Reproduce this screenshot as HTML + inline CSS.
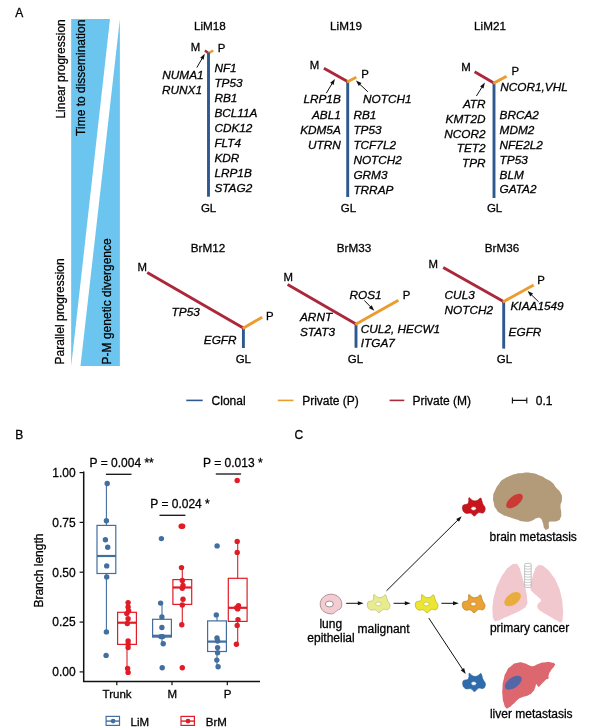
<!DOCTYPE html>
<html><head><meta charset="utf-8"><title>Figure</title>
<style>html,body{margin:0;padding:0;background:#fff}svg{display:block}text{font-family:"Liberation Sans",Arial,Helvetica,sans-serif;fill:#000;stroke:#000;stroke-width:0.28px}</style>
</head><body>
<svg width="612" height="727" viewBox="0 0 612 727">
<rect width="612" height="727" fill="#fff"/>
<text x="15.2" y="16.8" text-anchor="start" font-size="12">A</text>
<polygon points="71.2,19 110,19 71.2,366.1" fill="#6cc5ef"/>
<polygon points="119.9,19 119.9,366.1 80.5,366.1" fill="#6cc5ef"/>
<text transform="translate(64.5,118.6) rotate(-90)" font-size="12">Linear progression</text>
<text transform="translate(85.3,135.9) rotate(-90)" font-size="12">Time to dissemination</text>
<text transform="translate(64.3,364.4) rotate(-90)" font-size="12">Parallel progression</text>
<text transform="translate(110.6,364.4) rotate(-90)" font-size="12">P-M genetic divergence</text>
<text x="209.8" y="30.1" text-anchor="middle" font-size="11.7">LiM18</text>
<line x1="208.9" y1="53.4" x2="204.9" y2="50.6" stroke="#ab283b" stroke-width="2.5" stroke-linecap="butt"/>
<line x1="208.1" y1="53.4" x2="213.3" y2="50.5" stroke="#ec9c2e" stroke-width="2.5" stroke-linecap="butt"/>
<line x1="208.5" y1="52.5" x2="208.5" y2="196.7" stroke="#2e598e" stroke-width="2.9" stroke-linecap="butt"/>
<text x="190.8" y="50.8" text-anchor="start" font-size="11.4">M</text>
<text x="217.8" y="52.0" text-anchor="start" font-size="11.4">P</text>
<line x1="196.8" y1="67.6" x2="202.4" y2="58.0" stroke="#111" stroke-width="1.0"/>
<polygon points="204.8,53.8 203.6,59.8 200.2,57.8" fill="#111"/>
<text x="214.4" y="71.8" text-anchor="start" font-size="11.8" font-style="italic">NF1</text>
<text x="214.4" y="86.8" text-anchor="start" font-size="11.8" font-style="italic">TP53</text>
<text x="214.4" y="101.8" text-anchor="start" font-size="11.8" font-style="italic">RB1</text>
<text x="214.4" y="116.8" text-anchor="start" font-size="11.8" font-style="italic">BCL11A</text>
<text x="214.4" y="131.8" text-anchor="start" font-size="11.8" font-style="italic">CDK12</text>
<text x="214.4" y="146.8" text-anchor="start" font-size="11.8" font-style="italic">FLT4</text>
<text x="214.4" y="161.8" text-anchor="start" font-size="11.8" font-style="italic">KDR</text>
<text x="214.4" y="176.8" text-anchor="start" font-size="11.8" font-style="italic">LRP1B</text>
<text x="214.4" y="191.8" text-anchor="start" font-size="11.8" font-style="italic">STAG2</text>
<text x="203.6" y="79.4" text-anchor="end" font-size="11.8" font-style="italic">NUMA1</text>
<text x="202.0" y="94.3" text-anchor="end" font-size="11.8" font-style="italic">RUNX1</text>
<text x="208.6" y="211.8" text-anchor="middle" font-size="11.5">GL</text>
<text x="346" y="30.1" text-anchor="middle" font-size="11.7">LiM19</text>
<line x1="347.7" y1="80.6" x2="347.7" y2="197" stroke="#2e598e" stroke-width="2.9" stroke-linecap="butt"/>
<line x1="348.4" y1="82.0" x2="323.9" y2="68.3" stroke="#ab283b" stroke-width="2.9" stroke-linecap="butt"/>
<line x1="347.0" y1="82.0" x2="356.3" y2="77.3" stroke="#ec9c2e" stroke-width="2.9" stroke-linecap="butt"/>
<text x="309.8" y="69.0" text-anchor="start" font-size="11.4">M</text>
<text x="361.2" y="78.0" text-anchor="start" font-size="11.4">P</text>
<line x1="326.3" y1="93.2" x2="332.4" y2="83.0" stroke="#111" stroke-width="1.0"/>
<polygon points="334.9,78.9 333.6,84.9 330.2,82.8" fill="#111"/>
<line x1="367.9" y1="91.8" x2="359.4" y2="83.9" stroke="#111" stroke-width="1.0"/>
<polygon points="355.9,80.6 361.5,83.1 358.8,86.0" fill="#111"/>
<text x="340.8" y="103.4" text-anchor="end" font-size="11.8" font-style="italic">LRP1B</text>
<text x="363.0" y="103.4" text-anchor="start" font-size="11.8" font-style="italic">NOTCH1</text>
<text x="340.8" y="118.7" text-anchor="end" font-size="11.8" font-style="italic">ABL1</text>
<text x="340.8" y="133.7" text-anchor="end" font-size="11.8" font-style="italic">KDM5A</text>
<text x="340.8" y="148.7" text-anchor="end" font-size="11.8" font-style="italic">UTRN</text>
<text x="353.4" y="118.7" text-anchor="start" font-size="11.8" font-style="italic">RB1</text>
<text x="353.4" y="133.7" text-anchor="start" font-size="11.8" font-style="italic">TP53</text>
<text x="353.4" y="148.7" text-anchor="start" font-size="11.8" font-style="italic">TCF7L2</text>
<text x="353.4" y="163.7" text-anchor="start" font-size="11.8" font-style="italic">NOTCH2</text>
<text x="353.4" y="178.7" text-anchor="start" font-size="11.8" font-style="italic">GRM3</text>
<text x="353.4" y="193.7" text-anchor="start" font-size="11.8" font-style="italic">TRRAP</text>
<text x="348.4" y="211.8" text-anchor="middle" font-size="11.5">GL</text>
<text x="490" y="30.1" text-anchor="middle" font-size="11.7">LiM21</text>
<line x1="494" y1="82.0" x2="494" y2="198" stroke="#2e598e" stroke-width="2.9" stroke-linecap="butt"/>
<line x1="494.7" y1="83.4" x2="474.6" y2="71.8" stroke="#ab283b" stroke-width="2.9" stroke-linecap="butt"/>
<line x1="493.3" y1="83.4" x2="506.6" y2="76.3" stroke="#ec9c2e" stroke-width="2.9" stroke-linecap="butt"/>
<text x="461.2" y="70.6" text-anchor="start" font-size="11.4">M</text>
<text x="511.6" y="75.3" text-anchor="start" font-size="11.4">P</text>
<line x1="476.4" y1="96.0" x2="482.3" y2="86.7" stroke="#111" stroke-width="1.0"/>
<polygon points="484.9,82.6 483.5,88.6 480.1,86.4" fill="#111"/>
<text x="500.3" y="91.3" text-anchor="start" font-size="11.8" font-style="italic">NCOR1,VHL</text>
<text x="485.6" y="107.7" text-anchor="end" font-size="11.8" font-style="italic">ATR</text>
<text x="485.6" y="122.6" text-anchor="end" font-size="11.8" font-style="italic">KMT2D</text>
<text x="485.6" y="137.5" text-anchor="end" font-size="11.8" font-style="italic">NCOR2</text>
<text x="485.6" y="152.4" text-anchor="end" font-size="11.8" font-style="italic">TET2</text>
<text x="485.6" y="167.3" text-anchor="end" font-size="11.8" font-style="italic">TPR</text>
<text x="499.6" y="118.7" text-anchor="start" font-size="11.8" font-style="italic">BRCA2</text>
<text x="499.6" y="133.65" text-anchor="start" font-size="11.8" font-style="italic">MDM2</text>
<text x="499.6" y="148.6" text-anchor="start" font-size="11.8" font-style="italic">NFE2L2</text>
<text x="499.6" y="163.55" text-anchor="start" font-size="11.8" font-style="italic">TP53</text>
<text x="499.6" y="178.5" text-anchor="start" font-size="11.8" font-style="italic">BLM</text>
<text x="499.6" y="193.45" text-anchor="start" font-size="11.8" font-style="italic">GATA2</text>
<text x="494.6" y="211.8" text-anchor="middle" font-size="11.5">GL</text>
<text x="208" y="252.2" text-anchor="middle" font-size="11.7">BrM12</text>
<line x1="243.4" y1="326.9" x2="243.4" y2="348.0" stroke="#2e598e" stroke-width="2.9" stroke-linecap="butt"/>
<line x1="244.2" y1="328.4" x2="147.2" y2="272.6" stroke="#ab283b" stroke-width="2.9" stroke-linecap="butt"/>
<line x1="242.7" y1="328.4" x2="262.2" y2="317.2" stroke="#ec9c2e" stroke-width="2.9" stroke-linecap="butt"/>
<text x="137.6" y="271.0" text-anchor="start" font-size="11.4">M</text>
<text x="266.0" y="320.2" text-anchor="start" font-size="11.4">P</text>
<text x="171.6" y="316.3" text-anchor="start" font-size="11.8" font-style="italic">TP53</text>
<text x="203.8" y="343.7" text-anchor="start" font-size="11.8" font-style="italic">EGFR</text>
<text x="243.3" y="362.5" text-anchor="middle" font-size="11.5">GL</text>
<text x="354" y="252.2" text-anchor="middle" font-size="11.7">BrM33</text>
<line x1="356.0" y1="323.0" x2="356.0" y2="347.8" stroke="#2e598e" stroke-width="2.9" stroke-linecap="butt"/>
<line x1="356.8" y1="324.5" x2="287.6" y2="284.6" stroke="#ab283b" stroke-width="2.9" stroke-linecap="butt"/>
<line x1="355.3" y1="324.5" x2="398.4" y2="300.3" stroke="#ec9c2e" stroke-width="2.9" stroke-linecap="butt"/>
<text x="283.4" y="280.5" text-anchor="start" font-size="11.4">M</text>
<text x="402.8" y="299.3" text-anchor="start" font-size="11.4">P</text>
<text x="349.5" y="298.5" text-anchor="start" font-size="11.8" font-style="italic">ROS1</text>
<line x1="364.3" y1="300.4" x2="371.0" y2="307.3" stroke="#111" stroke-width="1.0"/>
<polygon points="374.3,310.8 368.8,308.0 371.7,305.2" fill="#111"/>
<text x="300.0" y="320.7" text-anchor="start" font-size="11.8" font-style="italic">ARNT</text>
<text x="300.0" y="336.4" text-anchor="start" font-size="11.8" font-style="italic">STAT3</text>
<text x="360.8" y="332.5" text-anchor="start" font-size="11.8" font-style="italic">CUL2, HECW1</text>
<text x="360.8" y="346.9" text-anchor="start" font-size="11.8" font-style="italic">ITGA7</text>
<text x="355.4" y="362.5" text-anchor="middle" font-size="11.5">GL</text>
<text x="502" y="252.2" text-anchor="middle" font-size="11.7">BrM36</text>
<line x1="503.7" y1="300.8" x2="503.7" y2="348.6" stroke="#2e598e" stroke-width="2.9" stroke-linecap="butt"/>
<line x1="504.4" y1="301.9" x2="443.2" y2="267.4" stroke="#ab283b" stroke-width="2.9" stroke-linecap="butt"/>
<line x1="502.9" y1="301.9" x2="533.7" y2="284.9" stroke="#ec9c2e" stroke-width="2.9" stroke-linecap="butt"/>
<text x="428.6" y="268.4" text-anchor="start" font-size="11.4">M</text>
<text x="537.3" y="283.6" text-anchor="start" font-size="11.4">P</text>
<text x="444.6" y="299.3" text-anchor="start" font-size="11.8" font-style="italic">CUL3</text>
<text x="444.6" y="314.4" text-anchor="start" font-size="11.8" font-style="italic">NOTCH2</text>
<text x="510.5" y="309.6" text-anchor="start" font-size="11.8" font-style="italic">KIAA1549</text>
<line x1="538.6" y1="301.8" x2="531.0" y2="294.4" stroke="#111" stroke-width="1.0"/>
<polygon points="527.6,291.0 533.1,293.6 530.3,296.5" fill="#111"/>
<text x="508.6" y="336.4" text-anchor="start" font-size="11.8" font-style="italic">EGFR</text>
<text x="504.4" y="362.5" text-anchor="middle" font-size="11.5">GL</text>
<line x1="186.3" y1="400.4" x2="202.7" y2="400.4" stroke="#2e598e" stroke-width="1.6" stroke-linecap="butt"/>
<text x="211.6" y="405.0" text-anchor="start" font-size="12">Clonal</text>
<line x1="277.8" y1="400.4" x2="293.5" y2="400.4" stroke="#ec9c2e" stroke-width="1.6" stroke-linecap="butt"/>
<text x="302.2" y="405.0" text-anchor="start" font-size="12">Private (P)</text>
<line x1="389.6" y1="400.4" x2="404.3" y2="400.4" stroke="#ab283b" stroke-width="1.6" stroke-linecap="butt"/>
<text x="412.4" y="405.0" text-anchor="start" font-size="12">Private (M)</text>
<path d="M512.4 400.4H526.8M512.4 397.4V403.4M526.8 397.4V403.4" stroke="#111" stroke-width="1.1" fill="none"/>
<text x="535.8" y="405.0" text-anchor="start" font-size="12">0.1</text>
<text x="15.2" y="438.8" text-anchor="start" font-size="12">B</text>
<path d="M83.7 471.6V681.5H260" stroke="#111" stroke-width="1.5" fill="none"/>
<line x1="79.6" y1="671.9" x2="83.7" y2="671.9" stroke="#111" stroke-width="1.2"/>
<text x="75.7" y="676.2" text-anchor="end" font-size="12">0.00</text>
<line x1="79.6" y1="622.1" x2="83.7" y2="622.1" stroke="#111" stroke-width="1.2"/>
<text x="75.7" y="626.4" text-anchor="end" font-size="12">0.25</text>
<line x1="79.6" y1="572.2" x2="83.7" y2="572.2" stroke="#111" stroke-width="1.2"/>
<text x="75.7" y="576.5" text-anchor="end" font-size="12">0.50</text>
<line x1="79.6" y1="522.4" x2="83.7" y2="522.4" stroke="#111" stroke-width="1.2"/>
<text x="75.7" y="526.7" text-anchor="end" font-size="12">0.75</text>
<line x1="79.6" y1="472.6" x2="83.7" y2="472.6" stroke="#111" stroke-width="1.2"/>
<text x="75.7" y="476.9" text-anchor="end" font-size="12">1.00</text>
<line x1="116.8" y1="681.6" x2="116.8" y2="685.2" stroke="#111" stroke-width="1.2"/>
<text x="117.1" y="697.6" text-anchor="middle" font-size="11.5">Trunk</text>
<line x1="172.0" y1="681.6" x2="172.0" y2="685.2" stroke="#111" stroke-width="1.2"/>
<text x="172.3" y="697.6" text-anchor="middle" font-size="11.5">M</text>
<line x1="227.3" y1="681.6" x2="227.3" y2="685.2" stroke="#111" stroke-width="1.2"/>
<text x="227.60000000000002" y="697.6" text-anchor="middle" font-size="11.5">P</text>
<text transform="translate(42.9,607.6) rotate(-90)" font-size="12">Branch length</text>
<line x1="106.4" y1="483.5" x2="106.4" y2="525.4" stroke="#426f9f" stroke-width="1.1"/>
<line x1="106.4" y1="573.5" x2="106.4" y2="631.9" stroke="#426f9f" stroke-width="1.1"/>
<rect x="97.0" y="525.4" width="18.8" height="48.1" fill="#fff" stroke="#426f9f" stroke-width="1.2"/>
<line x1="97.0" y1="556.0" x2="115.8" y2="556.0" stroke="#426f9f" stroke-width="2.2"/>
<circle cx="107.2" cy="483.5" r="2.7" fill="#426f9f"/>
<circle cx="106.4" cy="520.7" r="2.7" fill="#426f9f"/>
<circle cx="105.4" cy="539.7" r="2.7" fill="#426f9f"/>
<circle cx="107.7" cy="547.3" r="2.7" fill="#426f9f"/>
<circle cx="106.7" cy="565.9" r="2.7" fill="#426f9f"/>
<circle cx="106.7" cy="576.9" r="2.7" fill="#426f9f"/>
<circle cx="106.4" cy="631.9" r="2.7" fill="#426f9f"/>
<circle cx="106.1" cy="655.4" r="2.7" fill="#426f9f"/>
<line x1="127.0" y1="601.8" x2="127.0" y2="612.3" stroke="#e01c26" stroke-width="1.1"/>
<line x1="127.0" y1="644.4" x2="127.0" y2="672.9" stroke="#e01c26" stroke-width="1.1"/>
<rect x="117.6" y="612.3" width="18.8" height="32.1" fill="#fff" stroke="#e01c26" stroke-width="1.2"/>
<line x1="117.6" y1="622.7" x2="136.4" y2="622.7" stroke="#e01c26" stroke-width="2.2"/>
<circle cx="128.1" cy="602.6" r="2.7" fill="#e01c26"/>
<circle cx="128.1" cy="607.0" r="2.7" fill="#e01c26"/>
<circle cx="126.8" cy="613.6" r="2.7" fill="#e01c26"/>
<circle cx="128.6" cy="611.0" r="2.7" fill="#e01c26"/>
<circle cx="128.1" cy="618.8" r="2.7" fill="#e01c26"/>
<circle cx="127.3" cy="623.5" r="2.7" fill="#e01c26"/>
<circle cx="128.1" cy="641.0" r="2.7" fill="#e01c26"/>
<circle cx="128.1" cy="644.2" r="2.7" fill="#e01c26"/>
<circle cx="128.1" cy="647.6" r="2.7" fill="#e01c26"/>
<circle cx="127.6" cy="668.5" r="2.7" fill="#e01c26"/>
<circle cx="128.1" cy="672.4" r="2.7" fill="#e01c26"/>
<line x1="162.0" y1="603.1" x2="162.0" y2="619.3" stroke="#426f9f" stroke-width="1.1"/>
<line x1="162.0" y1="637.1" x2="162.0" y2="643.7" stroke="#426f9f" stroke-width="1.1"/>
<rect x="152.6" y="619.3" width="18.8" height="17.8" fill="#fff" stroke="#426f9f" stroke-width="1.2"/>
<line x1="152.6" y1="635.8" x2="171.4" y2="635.8" stroke="#426f9f" stroke-width="2.2"/>
<circle cx="160.6" cy="603.1" r="2.7" fill="#426f9f"/>
<circle cx="161.9" cy="617.0" r="2.7" fill="#426f9f"/>
<circle cx="161.9" cy="627.5" r="2.7" fill="#426f9f"/>
<circle cx="160.9" cy="636.6" r="2.7" fill="#426f9f"/>
<circle cx="162.7" cy="636.6" r="2.7" fill="#426f9f"/>
<circle cx="163.2" cy="643.7" r="2.7" fill="#426f9f"/>
<circle cx="162.2" cy="667.7" r="2.7" fill="#426f9f"/>
<circle cx="161.4" cy="538.6" r="2.7" fill="#426f9f"/>
<line x1="182.3" y1="567.3" x2="182.3" y2="579.6" stroke="#e01c26" stroke-width="1.1"/>
<line x1="182.3" y1="604.4" x2="182.3" y2="624.8" stroke="#e01c26" stroke-width="1.1"/>
<rect x="172.9" y="579.6" width="18.8" height="24.8" fill="#fff" stroke="#e01c26" stroke-width="1.2"/>
<line x1="172.9" y1="587.5" x2="191.7" y2="587.5" stroke="#e01c26" stroke-width="2.2"/>
<circle cx="181.5" cy="567.6" r="2.7" fill="#e01c26"/>
<circle cx="182.3" cy="580.4" r="2.7" fill="#e01c26"/>
<circle cx="183.0" cy="585.4" r="2.7" fill="#e01c26"/>
<circle cx="182.3" cy="588.2" r="2.7" fill="#e01c26"/>
<circle cx="183.0" cy="599.2" r="2.7" fill="#e01c26"/>
<circle cx="182.3" cy="605.0" r="2.7" fill="#e01c26"/>
<circle cx="181.8" cy="624.8" r="2.7" fill="#e01c26"/>
<circle cx="182.3" cy="667.7" r="2.7" fill="#e01c26"/>
<circle cx="181.2" cy="526.3" r="2.7" fill="#e01c26"/>
<circle cx="182.6" cy="526.3" r="2.7" fill="#e01c26"/>
<line x1="217.0" y1="614.9" x2="217.0" y2="620.9" stroke="#426f9f" stroke-width="1.1"/>
<line x1="217.0" y1="651.5" x2="217.0" y2="666.7" stroke="#426f9f" stroke-width="1.1"/>
<rect x="207.6" y="620.9" width="18.8" height="30.6" fill="#fff" stroke="#426f9f" stroke-width="1.2"/>
<line x1="207.6" y1="641.6" x2="226.4" y2="641.6" stroke="#426f9f" stroke-width="2.2"/>
<circle cx="216.3" cy="614.9" r="2.7" fill="#426f9f"/>
<circle cx="217.0" cy="637.9" r="2.7" fill="#426f9f"/>
<circle cx="217.6" cy="641.0" r="2.7" fill="#426f9f"/>
<circle cx="217.6" cy="647.6" r="2.7" fill="#426f9f"/>
<circle cx="217.6" cy="652.8" r="2.7" fill="#426f9f"/>
<circle cx="216.8" cy="660.1" r="2.7" fill="#426f9f"/>
<circle cx="218.1" cy="666.7" r="2.7" fill="#426f9f"/>
<circle cx="217.1" cy="545.9" r="2.7" fill="#426f9f"/>
<line x1="237.7" y1="541.4" x2="237.7" y2="578.3" stroke="#e01c26" stroke-width="1.1"/>
<line x1="237.7" y1="621.4" x2="237.7" y2="644.2" stroke="#e01c26" stroke-width="1.1"/>
<rect x="228.3" y="578.3" width="18.8" height="43.1" fill="#fff" stroke="#e01c26" stroke-width="1.2"/>
<line x1="228.3" y1="607.8" x2="247.1" y2="607.8" stroke="#e01c26" stroke-width="2.2"/>
<circle cx="236.7" cy="607.8" r="2.7" fill="#e01c26"/>
<circle cx="238.5" cy="605.8" r="2.7" fill="#e01c26"/>
<circle cx="237.7" cy="608.9" r="2.7" fill="#e01c26"/>
<circle cx="238.0" cy="619.6" r="2.7" fill="#e01c26"/>
<circle cx="237.2" cy="625.4" r="2.7" fill="#e01c26"/>
<circle cx="236.4" cy="644.2" r="2.7" fill="#e01c26"/>
<circle cx="237.2" cy="541.4" r="2.7" fill="#e01c26"/>
<circle cx="237.2" cy="552.4" r="2.7" fill="#e01c26"/>
<circle cx="237.2" cy="480.5" r="2.7" fill="#e01c26"/>
<text x="89.6" y="466.6" text-anchor="start" font-size="12">P = 0.004 **</text>
<line x1="105.9" y1="474.3" x2="131.5" y2="474.3" stroke="#111" stroke-width="1.3"/>
<text x="150.3" y="507.5" text-anchor="start" font-size="12">P = 0.024 *</text>
<line x1="159.5" y1="515.3" x2="185.4" y2="515.3" stroke="#111" stroke-width="1.3"/>
<text x="203.1" y="466.6" text-anchor="start" font-size="12">P = 0.013 *</text>
<line x1="215.8" y1="474.0" x2="241.1" y2="474.0" stroke="#111" stroke-width="1.3"/>
<rect x="106.1" y="716.4" width="13.4" height="9" fill="#fff" stroke="#426f9f" stroke-width="1.2"/>
<line x1="106.1" y1="721.1" x2="119.5" y2="721.1" stroke="#426f9f" stroke-width="1.4"/>
<circle cx="113.1" cy="721.1" r="2.4" fill="#426f9f"/>
<text x="130.6" y="725.6" text-anchor="start" font-size="11.5">LiM</text>
<rect x="181.0" y="716.4" width="13.4" height="9" fill="#fff" stroke="#e01c26" stroke-width="1.2"/>
<line x1="181.0" y1="721.1" x2="194.4" y2="721.1" stroke="#e01c26" stroke-width="1.4"/>
<circle cx="188.0" cy="721.1" r="2.4" fill="#e01c26"/>
<text x="205.8" y="725.6" text-anchor="start" font-size="11.5">BrM</text>
<text x="294.6" y="438.8" text-anchor="start" font-size="12">C</text>
<path d="M331.2 594.2c6 0 10.6 4.6 10.6 10 0 3.4-1.4 5.2-3.4 5.6-1.6 0.4-2.4 1.6-3.6 2.8-1.4 1.2-3.2 1.4-5 1.2-5.6-0.6-9.6-4.4-9.6-9.6 0-5.6 4.8-10 11-10z" fill="#f3ccd2" stroke="#9f7d85" stroke-width="0.8"/>
<ellipse cx="329.4" cy="604.0" rx="4.0" ry="2.9" fill="#fff" stroke="#8c7278" stroke-width="0.8"/>
<path d="M373.8 594.4C374.3 594.3 376.1 596.4 377.0 596.9C377.9 597.4 378.9 597.7 379.7 597.7C380.5 597.7 381.6 597.3 382.5 596.9C383.4 596.5 384.9 594.3 385.6 594.8C386.3 595.3 386.7 598.5 387.3 600.0C387.9 601.5 389.6 603.4 389.9 604.6C390.2 605.8 389.7 607.5 389.3 608.3C388.9 609.1 388.2 609.6 387.3 609.8C386.4 609.9 384.4 608.9 383.2 609.3C382.0 609.7 380.3 612.6 379.1 612.7C377.9 612.8 376.6 610.2 375.4 609.8C374.2 609.4 372.3 610.3 371.2 610.1C370.1 609.9 368.9 609.1 368.3 608.3C367.7 607.5 367.3 605.6 367.3 604.6C367.3 603.6 367.5 602.3 368.3 601.7C369.1 601.1 371.7 601.3 372.5 600.7C373.3 600.1 373.4 598.7 373.6 597.8C373.8 596.9 373.3 594.5 373.8 594.4Z" fill="#e9ec8e" stroke="#b9bc62" stroke-width="0.7" stroke-linejoin="round"/>
<ellipse cx="378.4" cy="603.9" rx="2.7" ry="1.9" fill="#fff" stroke="#b9bc62" stroke-width="0.6"/>
<path d="M421.8 594.5C422.3 594.4 424.1 596.5 425.0 597.0C425.9 597.5 426.9 597.8 427.7 597.8C428.5 597.8 429.6 597.4 430.5 597.0C431.4 596.6 432.9 594.4 433.6 594.9C434.3 595.4 434.7 598.6 435.3 600.1C435.9 601.6 437.6 603.5 437.9 604.7C438.2 605.9 437.7 607.6 437.3 608.4C436.9 609.2 436.2 609.8 435.3 609.9C434.4 610.0 432.4 609.0 431.2 609.4C430.0 609.8 428.3 612.7 427.1 612.8C425.9 612.9 424.6 610.3 423.4 609.9C422.2 609.5 420.3 610.4 419.2 610.2C418.1 610.0 416.9 609.2 416.3 608.4C415.7 607.6 415.3 605.7 415.3 604.7C415.3 603.7 415.5 602.4 416.3 601.8C417.1 601.2 419.7 601.4 420.5 600.8C421.3 600.2 421.4 598.8 421.6 597.9C421.8 597.0 421.3 594.6 421.8 594.5Z" fill="#ece632" stroke="#b5ae1e" stroke-width="0.7" stroke-linejoin="round"/>
<ellipse cx="426.4" cy="604.0" rx="2.7" ry="1.9" fill="#fff" stroke="#b5ae1e" stroke-width="0.6"/>
<path d="M468.8 594.5C469.3 594.4 471.1 596.5 472.0 597.0C472.9 597.5 473.9 597.8 474.7 597.8C475.5 597.8 476.6 597.4 477.5 597.0C478.4 596.6 479.9 594.4 480.6 594.9C481.3 595.4 481.7 598.6 482.3 600.1C482.9 601.6 484.6 603.5 484.9 604.7C485.2 605.9 484.7 607.6 484.3 608.4C483.9 609.2 483.2 609.8 482.3 609.9C481.4 610.0 479.4 609.0 478.2 609.4C477.0 609.8 475.3 612.7 474.1 612.8C472.9 612.9 471.6 610.3 470.4 609.9C469.2 609.5 467.3 610.4 466.2 610.2C465.1 610.0 463.9 609.2 463.3 608.4C462.7 607.6 462.3 605.7 462.3 604.7C462.3 603.7 462.5 602.4 463.3 601.8C464.1 601.2 466.7 601.4 467.5 600.8C468.3 600.2 468.4 598.8 468.6 597.9C468.8 597.0 468.3 594.6 468.8 594.5Z" fill="#e9a233" stroke="#b87a1e" stroke-width="0.7" stroke-linejoin="round"/>
<ellipse cx="473.4" cy="604.0" rx="2.7" ry="1.9" fill="#fff" stroke="#b87a1e" stroke-width="0.6"/>
<path d="M469.0 497.7C469.5 497.6 471.3 499.7 472.2 500.2C473.1 500.7 474.1 501.0 474.9 501.0C475.7 501.0 476.8 500.6 477.7 500.2C478.6 499.8 480.1 497.6 480.8 498.1C481.5 498.6 481.9 501.8 482.5 503.3C483.1 504.8 484.8 506.7 485.1 507.9C485.4 509.1 484.9 510.8 484.5 511.6C484.1 512.4 483.4 513.0 482.5 513.1C481.6 513.2 479.6 512.2 478.4 512.6C477.2 513.0 475.5 515.9 474.3 516.0C473.1 516.1 471.8 513.5 470.6 513.1C469.4 512.7 467.5 513.6 466.4 513.4C465.3 513.2 464.1 512.4 463.5 511.6C462.9 510.8 462.5 508.9 462.5 507.9C462.5 506.9 462.7 505.6 463.5 505.0C464.3 504.4 466.9 504.6 467.7 504.0C468.5 503.4 468.6 502.0 468.8 501.1C469.0 500.2 468.5 497.8 469.0 497.7Z" fill="#c8141c" stroke="#b01018" stroke-width="0.7" stroke-linejoin="round"/>
<ellipse cx="473.6" cy="508.5" rx="2.7" ry="1.9" fill="#fff" stroke="#b01018" stroke-width="0.6"/>
<path d="M469.2 673.2C469.7 673.1 471.5 675.2 472.4 675.7C473.3 676.2 474.3 676.5 475.1 676.5C475.9 676.5 477.0 676.1 477.9 675.7C478.8 675.3 480.3 673.1 481.0 673.6C481.7 674.1 482.1 677.3 482.7 678.8C483.3 680.3 485.0 682.2 485.3 683.4C485.6 684.6 485.1 686.3 484.7 687.1C484.3 687.9 483.6 688.4 482.7 688.6C481.8 688.7 479.8 687.7 478.6 688.1C477.4 688.5 475.7 691.4 474.5 691.5C473.3 691.6 472.0 689.0 470.8 688.6C469.6 688.2 467.7 689.1 466.6 688.9C465.5 688.7 464.3 687.9 463.7 687.1C463.1 686.3 462.7 684.4 462.7 683.4C462.7 682.4 462.9 681.1 463.7 680.5C464.5 679.9 467.1 680.1 467.9 679.5C468.7 678.9 468.8 677.5 469.0 676.6C469.2 675.7 468.7 673.3 469.2 673.2Z" fill="#2f6cad" stroke="#2a5f9a" stroke-width="0.7" stroke-linejoin="round"/>
<ellipse cx="473.8" cy="683.5" rx="2.7" ry="1.9" fill="#fff" stroke="#2a5f9a" stroke-width="0.6"/>
<line x1="346.2" y1="603.3" x2="358.8" y2="603.3" stroke="#111" stroke-width="1.0"/>
<polygon points="363.6,603.3 357.8,605.3 357.8,601.3" fill="#111"/>
<line x1="393.6" y1="603.3" x2="405.8" y2="603.3" stroke="#111" stroke-width="1.0"/>
<polygon points="410.6,603.3 404.8,605.3 404.8,601.3" fill="#111"/>
<line x1="441.4" y1="603.3" x2="454.0" y2="603.3" stroke="#111" stroke-width="1.0"/>
<polygon points="458.8,603.3 453.0,605.3 453.0,601.3" fill="#111"/>
<line x1="386.5" y1="590.8" x2="458.3" y2="519.6" stroke="#111" stroke-width="1.0"/>
<polygon points="461.7,516.2 459.0,521.7 456.2,518.9" fill="#111"/>
<line x1="428.8" y1="618.1" x2="463.0" y2="670.0" stroke="#111" stroke-width="1.0"/>
<polygon points="465.6,674.0 460.7,670.3 464.1,668.1" fill="#111"/>
<text x="330.8" y="627.5" text-anchor="middle" font-size="12">lung</text>
<text x="331.0" y="641.9" text-anchor="middle" font-size="12">epithelial</text>
<text x="383.6" y="632.7" text-anchor="middle" font-size="12">malignant</text>
<path d="M520.7 473.2C525.9 472.9 524.6 472.1 531.1 473.0C537.6 473.9 535.5 474.0 540.3 475.8C545.1 477.6 541.6 476.3 545.5 478.5C549.4 480.7 548.6 479.4 552.1 482.4C555.6 485.4 553.2 484.1 556.0 487.6C558.8 491.1 558.5 488.9 560.5 492.8C562.5 496.7 561.9 495.0 561.9 499.4C561.9 503.8 560.7 501.6 560.5 505.9C560.3 510.2 561.2 508.5 561.2 512.4C561.2 516.3 561.8 514.9 560.5 517.7C559.2 520.5 560.6 519.6 557.3 520.9C554.0 522.2 553.5 520.9 550.7 521.6C547.9 522.3 549.4 520.9 548.8 522.9C548.2 524.9 549.5 525.3 548.8 527.5C548.1 529.7 548.3 529.2 546.8 529.4C545.3 529.6 545.5 530.3 544.2 528.1C542.9 525.9 544.2 526.2 542.9 522.9C541.6 519.6 542.5 519.8 540.3 518.3C538.1 516.8 539.5 517.4 536.4 518.3C533.3 519.2 535.5 519.8 531.1 520.9C526.7 522.0 528.1 522.0 523.3 521.6C518.5 521.2 521.6 521.1 516.8 519.6C512.0 518.1 514.1 518.9 508.9 517.0C503.7 515.1 505.5 516.6 501.1 513.8C496.7 511.0 498.2 512.0 495.8 508.5C493.4 505.0 494.8 507.2 493.9 503.3C493.0 499.4 492.8 501.2 493.2 496.8C493.6 492.4 493.2 494.6 495.2 490.2C497.2 485.8 496.3 487.4 499.1 483.7C501.9 480.0 500.0 481.7 503.7 479.1C507.4 476.5 506.3 477.5 510.2 475.8C514.1 474.1 512.0 474.8 515.5 473.9C519.0 473.0 515.5 473.5 520.7 473.2Z" fill="#b39a78"/>
<ellipse cx="514.5" cy="501.1" rx="9.8" ry="5.0" transform="rotate(-38.5 514.5 501.1)" fill="#cc3a34"/>
<text x="489.5" y="541.2" text-anchor="start" font-size="12">brain metastasis</text>
<path d="M514.8 563.9C517.8 563.9 516.5 563.2 518.7 566.5C520.9 569.8 519.6 568.3 521.3 573.7C523.0 579.1 522.3 576.7 523.9 582.8C525.5 588.9 525.1 586.3 526.2 592.0C527.3 597.7 527.1 595.4 527.2 599.8C527.3 604.2 528.3 601.8 526.6 605.1C524.9 608.4 526.2 606.8 522.0 609.6C517.8 612.4 519.8 611.0 514.1 613.6C508.4 616.2 510.6 615.1 505.0 617.5C499.4 619.9 500.9 620.1 497.2 620.7C493.5 621.3 495.4 622.0 493.9 619.4C492.4 616.8 492.9 618.6 492.6 612.9C492.3 607.2 492.1 609.4 493.0 602.4C493.9 595.4 493.2 599.0 495.2 592.0C497.2 585.0 496.1 588.0 499.1 581.5C502.1 575.0 500.8 577.4 504.3 572.4C507.8 567.4 506.1 569.3 509.6 566.5C513.1 563.7 511.8 563.9 514.8 563.9Z" fill="#f1c8ce"/>
<path d="M540.3 565.2C543.1 565.6 541.6 564.5 545.5 567.8C549.4 571.1 548.2 569.6 552.1 575.0C556.0 580.4 554.3 577.1 557.3 584.1C560.3 591.1 559.4 588.0 561.2 595.9C563.0 603.8 562.3 600.7 562.8 607.7C563.3 614.7 563.3 612.0 562.8 616.8C562.3 621.6 563.0 620.8 561.2 622.1C559.4 623.4 561.2 622.7 557.3 620.7C553.4 618.7 554.6 619.2 549.4 616.2C544.2 613.2 545.5 614.4 541.6 611.6C537.7 608.8 538.8 610.3 537.7 607.7C536.6 605.1 537.2 606.2 538.3 603.8C539.4 601.4 540.9 602.7 540.9 600.5C540.9 598.3 540.9 599.8 538.3 597.2C535.7 594.6 535.7 595.6 533.1 592.6C530.5 589.6 530.9 592.2 530.5 588.1C530.1 584.0 530.5 585.9 531.8 580.2C533.1 574.5 532.7 575.7 534.4 571.1C536.1 566.5 535.0 568.5 537.0 566.5C539.0 564.5 537.5 564.8 540.3 565.2Z" fill="#f1c8ce"/>
<rect x="524.6" y="563.4" width="6.6" height="24" rx="1.4" fill="#fff" stroke="#9a9a9a" stroke-width="0.6"/>
<path d="M524.8 566.1q3.3 1.1 6.2 0" fill="none" stroke="#9a9a9a" stroke-width="0.5"/>
<path d="M524.8 568.7q3.3 1.1 6.2 0" fill="none" stroke="#9a9a9a" stroke-width="0.5"/>
<path d="M524.8 571.4q3.3 1.1 6.2 0" fill="none" stroke="#9a9a9a" stroke-width="0.5"/>
<path d="M524.8 574.0q3.3 1.1 6.2 0" fill="none" stroke="#9a9a9a" stroke-width="0.5"/>
<path d="M524.8 576.7q3.3 1.1 6.2 0" fill="none" stroke="#9a9a9a" stroke-width="0.5"/>
<path d="M524.8 579.4q3.3 1.1 6.2 0" fill="none" stroke="#9a9a9a" stroke-width="0.5"/>
<path d="M524.8 582.0q3.3 1.1 6.2 0" fill="none" stroke="#9a9a9a" stroke-width="0.5"/>
<path d="M524.8 584.7q3.3 1.1 6.2 0" fill="none" stroke="#9a9a9a" stroke-width="0.5"/>
<ellipse cx="512.6" cy="599.2" rx="9.4" ry="5.6" transform="rotate(-36 512.6 599.2)" fill="#e8ad3e"/>
<text x="489.9" y="632.3" text-anchor="start" font-size="12">primary cancer</text>
<path d="M518.0 662.8C522.3 661.9 520.4 662.4 524.2 663.3C528.0 664.2 526.4 664.5 529.5 665.4C532.6 666.3 530.5 666.4 533.6 665.9C536.7 665.4 535.0 665.0 538.9 663.8C542.8 662.6 541.0 662.7 545.2 662.3C549.4 661.9 548.3 662.0 551.4 662.5C554.5 663.0 553.7 662.5 554.6 663.8C555.5 665.1 555.2 664.2 554.0 666.5C552.8 668.8 552.6 667.8 550.9 670.6C549.2 673.4 549.7 672.2 548.8 674.8C547.9 677.4 549.2 676.9 548.3 678.5C547.4 680.1 547.8 678.3 546.2 679.5C544.6 680.7 545.5 680.2 543.6 682.1C541.7 684.0 542.1 683.7 540.4 685.3C538.7 686.9 539.8 687.2 538.4 686.8C537.0 686.4 537.4 684.0 536.3 684.2C535.2 684.4 536.4 684.8 535.2 687.4C534.0 690.0 534.9 689.5 532.6 692.1C530.3 694.7 531.9 693.5 528.4 695.2C524.9 696.9 525.8 695.7 522.1 697.3C518.4 698.9 520.3 697.6 517.4 699.9C514.5 702.2 516.3 701.5 513.3 704.1C510.3 706.7 511.0 706.6 508.5 707.8C506.0 709.0 507.5 709.4 505.9 707.8C504.3 706.2 504.9 707.1 503.8 703.1C502.7 699.1 502.9 700.9 502.5 695.7C502.1 690.5 502.1 693.0 502.5 687.4C502.9 681.8 502.5 684.2 503.8 679.0C505.1 673.8 504.0 676.1 506.5 671.7C509.0 667.3 507.4 668.9 511.2 665.9C515.0 662.9 513.7 663.7 518.0 662.8Z" fill="#dd676e"/>
<ellipse cx="513.3" cy="682.7" rx="9.6" ry="5.2" transform="rotate(-35 513.3 682.7)" fill="#5466a6"/>
<text x="489.9" y="718.4" text-anchor="start" font-size="12">liver metastasis</text>
</svg></body></html>
